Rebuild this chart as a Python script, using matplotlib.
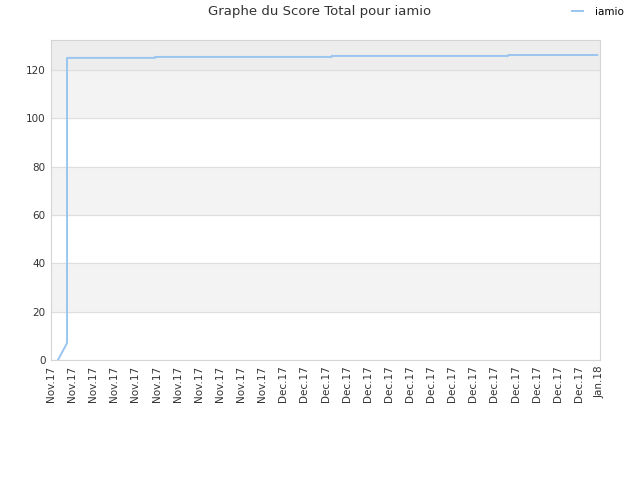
import matplotlib
matplotlib.use("Agg")
import matplotlib.pyplot as plt

# tick labels along the x axis (one per tick index)
x_labels = ["Nov.17"] * 11 + ["Dec.17"] * 15 + ["Jan.18"]

# score series, x in tick-index units
score_x = [0.33, 0.76, 0.76, 4.93, 4.93, 13.3, 13.3, 21.65, 21.65, 25.87]
score_y = [0, 7, 125, 125, 125.4, 125.4, 125.8, 125.8, 126.2, 126.2]

y_ticks = [0, 20, 40, 60, 80, 100, 120]
y_max = 132.4

fig = plt.figure(figsize=(6.4, 4.8), dpi=100)
ax = fig.add_axes([51 / 640, 120 / 480, 549 / 640, 320 / 480])

# alternating bands
for lo in (20, 60, 100):
    ax.axhspan(lo, lo + 20, color="#f3f3f3", zorder=0)
ax.axhspan(120, y_max, color="#ededed", zorder=0)

ax.plot(score_x, score_y, color="#99c5f0", lw=1.4, label="iamio", zorder=3)

ax.set_xlim(0, len(x_labels) - 1)
ax.set_ylim(0, y_max)
ax.set_xticks(range(len(x_labels)))
ax.set_xticklabels(x_labels, rotation=90)
ax.set_yticks(y_ticks)
ax.tick_params(length=0, labelsize=7.5, colors="#333333", pad=4)
ax.yaxis.grid(True, color="#dedede", lw=0.8)
ax.set_axisbelow(True)
for sp in ax.spines.values():
    sp.set_color("#d5d5d5")

fig.suptitle("Graphe du Score Total pour iamio", x=0.5, y=0.99, fontsize=9.5, color="#333333")
fig.legend(loc="upper right", bbox_to_anchor=(0.99, 1.005), frameon=False, fontsize=7.5,
           handlelength=1.0, handletextpad=1.2)

fig.savefig("out.png", dpi=100)
